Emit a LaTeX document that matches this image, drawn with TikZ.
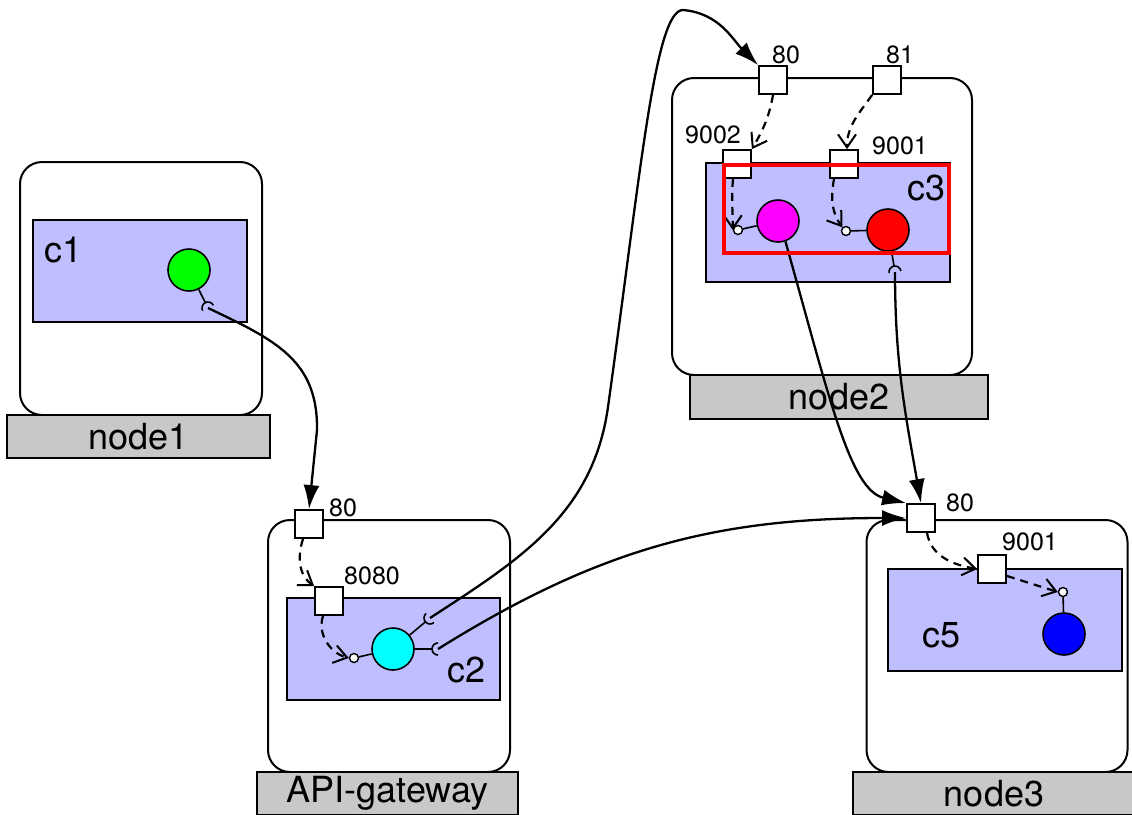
\documentclass[tikz,border=0pt]{standalone}
\usepackage{fontspec}
\setmainfont{TeX Gyre Heros}
\usetikzlibrary{arrows.meta,calc}

\definecolor{ctrfill}{RGB}{191,191,255}
\definecolor{barfill}{RGB}{200,200,200}
\definecolor{procgreen}{RGB}{0,255,0}
\definecolor{proccyan}{RGB}{0,255,255}
\definecolor{procmagenta}{RGB}{255,0,255}
\definecolor{procred}{RGB}{255,0,0}
\definecolor{procblue}{RGB}{0,0,255}

\tikzset{
  hostbox/.style={draw, line width=2pt, rounded corners=22pt, fill=white, inner sep=0pt},
  hostbar/.style={draw, line width=2pt, fill=barfill, inner sep=0pt, font=\fontsize{36}{40}\selectfont},
  ctr/.style={draw, line width=1.8pt, fill=ctrfill, inner sep=0pt},
  port/.style={draw, line width=1.8pt, fill=white, minimum size=28pt, inner sep=0pt},
  proc/.style={circle, draw, line width=1.6pt, minimum size=42pt, inner sep=0pt},
  lolli/.style={circle, draw, line width=1.4pt, fill=white, minimum size=9pt, inner sep=0pt},
  bigtxt/.style={inner sep=0pt, font=\fontsize{36}{40}\selectfont},
  smalltxt/.style={inner sep=0pt, font=\fontsize{25}{28}\selectfont},
  stub/.style={line width=1.6pt},
  wire/.style={line width=2.3pt, -{Latex[length=24pt,width=16pt]}},
  link/.style={line width=2.2pt, dash pattern=on 8pt off 6pt, -{Straight Barb[length=13pt,width=18pt,line width=2pt]}}
}

\begin{document}
\begin{tikzpicture}[x=1pt, y=1pt, yscale=-1]
\useasboundingbox (0,0) rectangle (1132,814);

% node1
\node[hostbox, minimum width=242pt, minimum height=253pt] (node1) at (141,288.5) {};
\node[hostbar, minimum width=263pt, minimum height=43pt] (node1bar) at (138.5,436.5) {node1};
\node[ctr, minimum width=214pt, minimum height=102pt] (c1) at (140,271) {};
\node[bigtxt, anchor=west] (c1lab) at (44,250) {c1};
\node[proc, fill=procgreen] (c1proc) at (189,270) {};
\coordinate (c1sock) at (208,308);

% API-gateway
\node[hostbox, minimum width=242pt, minimum height=252pt] (gw) at (389,646) {};
\node[hostbar, minimum width=261pt, minimum height=43pt] (gwbar) at (387.5,793.5) {API-gateway};
\node[ctr, minimum width=213pt, minimum height=102pt] (c2) at (393.5,649) {};
\node[bigtxt, anchor=west] (c2lab) at (447,670) {c2};
\node[port] (gw80) at (309,524) {};
\node[smalltxt, anchor=west] (gw80lab) at (329,508) {80};
\node[port] (c2p8080) at (329,601) {};
\node[smalltxt, anchor=west] (c2p8080lab) at (344,576) {8080};
\node[proc, fill=proccyan] (c2proc) at (393,649) {};
\node[lolli] (c2in) at (354,658) {};
\coordinate (c2sockA) at (430,618);
\coordinate (c2sockB) at (438,649);

% node2
\node[hostbox, minimum width=300pt, minimum height=297pt] (node2) at (822,226.5) {};
\node[hostbar, minimum width=298pt, minimum height=44pt] (node2bar) at (839,397) {node2};
\node[ctr, minimum width=244pt, minimum height=119pt] (c3) at (828,222.5) {};
\node[bigtxt, anchor=west] (c3lab) at (907,188) {c3};
\node[port] (n2p80) at (773,80) {};
\node[smalltxt, anchor=west] (n2p80lab) at (772,55) {80};
\node[port] (n2p81) at (887,80) {};
\node[smalltxt, anchor=west] (n2p81lab) at (886,55) {81};
\node[port] (c3p9002) at (737,164) {};
\node[smalltxt, anchor=east] (c3p9002lab) at (741,135) {9002};
\node[port] (c3p9001) at (844,164) {};
\node[smalltxt, anchor=west] (c3p9001lab) at (872,146) {9001};
\node[proc, fill=procmagenta] (c3procA) at (778,221) {};
\node[lolli] (c3inA) at (738,230) {};
\node[proc, fill=procred] (c3procB) at (888,230) {};
\node[lolli] (c3inB) at (846,231) {};
\coordinate (c3sock) at (895,272);

% node3
\node[hostbox, minimum width=261pt, minimum height=252pt] (node3) at (997,646) {};
\node[hostbar, minimum width=282pt, minimum height=43pt] (node3bar) at (994,793.5) {node3};
\node[ctr, minimum width=234pt, minimum height=102pt] (c5) at (1005,620) {};
\node[bigtxt, anchor=west] (c5lab) at (922,635) {c5};
\node[port] (n3p80) at (921,518) {};
\node[smalltxt, anchor=west] (n3p80lab) at (946,503) {80};
\node[port] (c5p9001) at (992,569) {};
\node[smalltxt, anchor=west] (c5p9001lab) at (1002,542) {9001};
\node[lolli] (c5in) at (1063,592) {};
\node[proc, fill=procblue] (c5proc) at (1064,634) {};

% lollipops and sockets
\foreach \a/\b in {c2in/c2proc, c3inA/c3procA, c3inB/c3procB, c5in/c5proc}
    \draw[stub] (\a) -- (\b);
\foreach \s/\p/\d in {c1sock/c1proc/63, c2sockA/c2proc/-41, c2sockB/c2proc/0, c3sock/c3procB/80}
{
    \draw[stub] (\p) -- ($(\s)!6pt!(\p)$);
    \draw[stub] (\s) ++(\d+90:6) arc[start angle=\d+90, delta angle=180, radius=6];
}

% links inside hosts
\draw[link] ([xshift=-6pt]gw80.south) to[out=108,in=-145] (c2p8080.north west);
\draw[link] ([xshift=-6pt]c2p8080.south) to[out=108,in=195] (c2in.west);
\draw[link] (n2p80.south) to[out=100,in=-60] (c3p9002.north east);
\draw[link] (n2p81.south west) to[out=125,in=-90] ([xshift=3pt]c3p9001.north);
\draw[link] ([xshift=-4pt]c3p9002.south) to[out=95,in=-90] (c3inA.west);
\draw[link] ([xshift=-10pt]c3p9001.south) to[out=100,in=-125] (c3inB.north west);
\draw[link] ([xshift=6pt]n3p80.south) to[out=80,in=190] (c5p9001.west);
\draw[link] (c5p9001.-25) -- (c5in.west);

% wires between hosts
\draw[wire] (c1sock) .. controls (275,340) and (318,360) .. (317,430) -- (gw80.north);
\draw[wire] (c2sockA) to[out=-33,in=98] (608,407)
    .. controls (641,170) and (655,10) .. (683,10) to[out=5,in=-135] (n2p80.north west);
\draw[wire] (c2sockB) to[out=-32,in=180] (n3p80.west);
\draw[wire] (c3procA.-70) .. controls (830,400) and (850,490) .. (n3p80.north west);
\draw[wire] (c3sock) to[out=90,in=-100] (n3p80.north);

% highlight
\node[draw=red, line width=4.5pt, minimum width=225pt, minimum height=88pt, inner sep=0pt] (focus) at (836.5,209) {};

\end{tikzpicture}
\end{document}
